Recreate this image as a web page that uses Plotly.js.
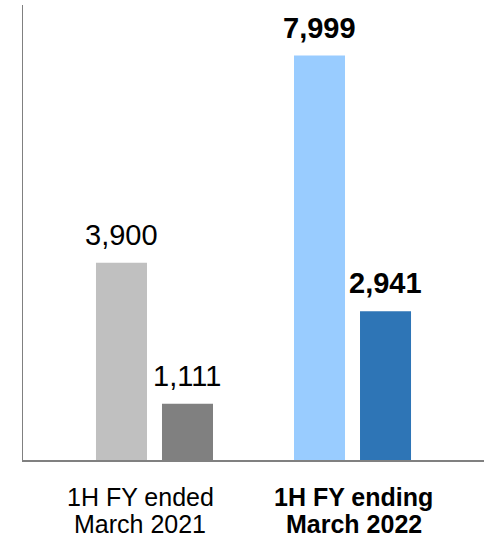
<!DOCTYPE html>
<html>
<head>
<meta charset="utf-8">
<script src="https://cdn.plot.ly/plotly-3.0.1.min.js"></script>
<style>
  html, body { margin: 0; padding: 0; background: #ffffff; }
  #chart { width: 485px; height: 536px; }
</style>
</head>
<body>
<div id="chart"></div>
<script>
// ---- Data ----
const categories = ['1H FY ended March 2021', '1H FY ending March 2022'];
const catLine1 = ['1H FY ended', '1H FY ending'];
const catLine2 = ['March 2021', 'March 2022'];
const seriesA = [3900, 7999];
const seriesB = [1111, 2941];
const colorsA = ['#c0c0c0', '#99ccff'];
const colorsB = ['#808080', '#2e75b6'];
const boldCat = [false, true];

// ---- Chart ----
const FONT = '"Liberation Sans", Arial, sans-serif';

const traces = [
  { type: 'bar', x: categories, y: seriesA, marker: { color: colorsA }, hoverinfo: 'none', name: 'A' },
  { type: 'bar', x: categories, y: seriesB, marker: { color: colorsB }, hoverinfo: 'none', name: 'B' }
];

const fmt = (v, b) => {
  const s = v.toLocaleString('en-US');
  return b ? '<b>' + s + '</b>' : s;
};

const annotations = [];
const offset = 0.16667;
categories.forEach((c, i) => {
  annotations.push({ x: i - offset, y: seriesA[i], xref: 'x', yref: 'y', text: fmt(seriesA[i], boldCat[i]),
    showarrow: false, yanchor: 'bottom', yshift: 10, font: { family: FONT, size: 29, color: '#000' } });
  annotations.push({ x: i + offset, y: seriesB[i], xref: 'x', yref: 'y', text: fmt(seriesB[i], boldCat[i]),
    showarrow: false, yanchor: 'bottom', yshift: 10, font: { family: FONT, size: 29, color: '#000' } });
  const xs = i === 0 ? -14 : 1;
  annotations.push({ x: i, y: 0, xref: 'x', yref: 'paper', text: boldCat[i] ? '<b>' + catLine1[i] + '</b>' : catLine1[i],
    showarrow: false, yanchor: 'top', yshift: -21, xshift: xs, font: { family: FONT, size: 25, color: '#000' } });
  annotations.push({ x: i, y: 0, xref: 'x', yref: 'paper', text: boldCat[i] ? '<b>' + catLine2[i] + '</b>' : catLine2[i],
    showarrow: false, yanchor: 'top', yshift: -48, xshift: xs, font: { family: FONT, size: 25, color: '#000' } });
});

const layout = {
  width: 485, height: 536,
  margin: { l: 23, r: 1, t: 5, b: 76 },
  paper_bgcolor: '#ffffff', plot_bgcolor: '#ffffff',
  showlegend: false,
  barmode: 'group',
  bargap: 0.3333,
  bargroupgap: 0.2273,
  font: { family: FONT, color: '#000' },
  xaxis: { type: 'category', range: [-0.664, 1.664], showticklabels: false, showgrid: false, zeroline: false,
    showline: true, linecolor: '#808080', linewidth: 1.5, ticks: '', fixedrange: true },
  yaxis: { range: [0, 9000], showticklabels: false, showgrid: false, zeroline: false,
    showline: true, linecolor: '#808080', linewidth: 1.5, ticks: '', fixedrange: true },
  annotations: annotations
};

Plotly.newPlot('chart', traces, layout, { displayModeBar: false, staticPlot: true });
</script>
</body>
</html>
